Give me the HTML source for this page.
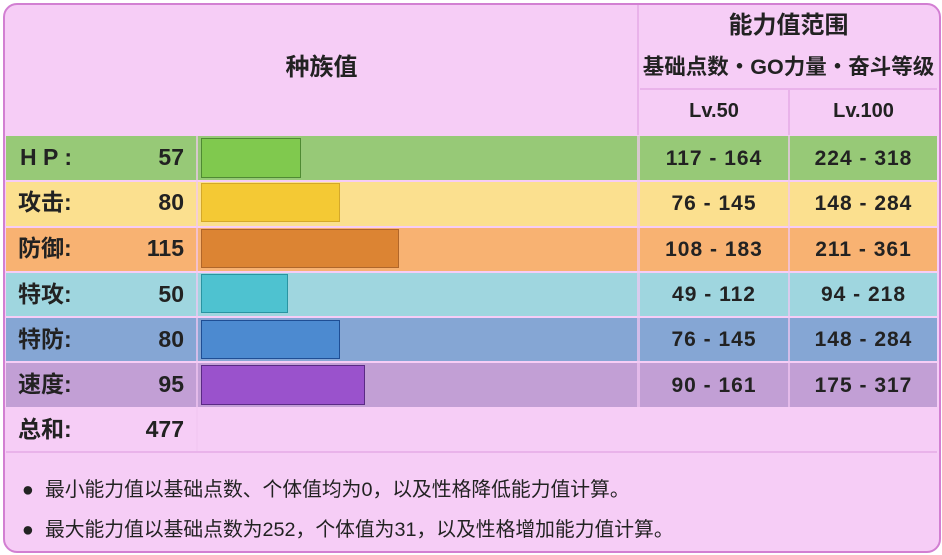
<!DOCTYPE html>
<html><head><meta charset="utf-8"><style>
body{margin:0;width:942px;height:555px;background:#fff;font-family:"Liberation Sans","Noto Sans CJK SC",sans-serif;color:#222;overflow:hidden}
.o{position:absolute;left:3px;top:3px;width:934px;height:546px;border:2px solid #d27fd2;border-radius:14px;background:#f6cdf6}
.a{position:absolute;box-sizing:border-box}
.t{position:absolute;font-weight:bold;font-size:23px;line-height:1}
.r{font-size:21px;letter-spacing:1px}
.c{text-align:center}
.n{position:absolute;font-size:19.8px;left:22px}
</style></head><body>
<div class="o"></div>
<div class="a" style="left:637px;top:5px;width:2px;height:130px;background:#e9b3ea"></div>
<div class="a" style="left:640px;top:88px;width:297px;height:2px;background:#e9b3ea"></div>
<div class="a" style="left:788px;top:90px;width:2px;height:45px;background:#e9b3ea"></div>
<div class="t c" style="left:6px;top:56px;width:631px;font-size:24px">种族值</div>
<div class="t c" style="left:640px;top:14px;width:297px;font-size:24px">能力值范围</div>
<div class="t c" style="left:638px;top:57px;width:301px;font-size:21.5px;white-space:nowrap">基础点数・GO力量・奋斗等级</div>
<div class="t c" style="left:640px;top:101px;width:148px;font-size:20px">Lv.50</div>
<div class="t c" style="left:790px;top:101px;width:147px;font-size:20px">Lv.100</div>

<div class="a" style="left:6px;top:136px;width:931px;height:44px;background:#97c977"></div>
<div class="a" style="left:6px;top:182px;width:931px;height:44px;background:#fbe08f"></div>
<div class="a" style="left:6px;top:228px;width:931px;height:43px;background:#f8b272"></div>
<div class="a" style="left:6px;top:273px;width:931px;height:43px;background:#9fd6df"></div>
<div class="a" style="left:6px;top:318px;width:931px;height:43px;background:#85a6d4"></div>
<div class="a" style="left:6px;top:363px;width:931px;height:44px;background:#c29fd5"></div>
<div class="a" style="left:196px;top:136px;width:2px;height:315px;background:#f2c8f2;opacity:.7"></div>
<div class="a" style="left:637px;top:136px;width:3px;height:271px;background:#f2c8f2;opacity:.7"></div>
<div class="a" style="left:788px;top:136px;width:2px;height:271px;background:#f2c8f2;opacity:.7"></div>
<div class="a" style="left:6px;top:451px;width:931px;height:2px;background:#e9b3ea"></div>

<div class="a" style="left:201px;top:138px;width:100px;height:40px;background:#80c94e;border:1px solid #4f8a33"></div>
<div class="a" style="left:201px;top:183px;width:139px;height:39px;background:#f4c934;border:1px solid #d4a82a"></div>
<div class="a" style="left:201px;top:229px;width:198px;height:39px;background:#dc8433;border:1px solid #b0662a"></div>
<div class="a" style="left:201px;top:274px;width:87px;height:39px;background:#4ec2d0;border:1px solid #2a94a2"></div>
<div class="a" style="left:201px;top:320px;width:139px;height:39px;background:#4c8ad0;border:1px solid #1f4e94"></div>
<div class="a" style="left:201px;top:365px;width:164px;height:40px;background:#9a52cc;border:1px solid #5a2a84"></div>

<div class="t" style="left:20px;top:146px">H P :</div><div class="t" style="left:100px;top:146px;width:84px;text-align:right">57</div>
<div class="t" style="left:18px;top:191px">攻击:</div><div class="t" style="left:100px;top:191px;width:84px;text-align:right">80</div>
<div class="t" style="left:18px;top:237px">防御:</div><div class="t" style="left:100px;top:237px;width:84px;text-align:right">115</div>
<div class="t" style="left:18px;top:283px">特攻:</div><div class="t" style="left:100px;top:283px;width:84px;text-align:right">50</div>
<div class="t" style="left:18px;top:328px">特防:</div><div class="t" style="left:100px;top:328px;width:84px;text-align:right">80</div>
<div class="t" style="left:18px;top:373px">速度:</div><div class="t" style="left:100px;top:373px;width:84px;text-align:right">95</div>
<div class="t" style="left:18px;top:418px">总和:</div><div class="t" style="left:100px;top:418px;width:84px;text-align:right">477</div>

<div class="t c r" style="left:640px;top:148px;width:148px">117 - 164</div><div class="t c r" style="left:790px;top:148px;width:147px">224 - 318</div>
<div class="t c r" style="left:640px;top:193px;width:148px">76 - 145</div><div class="t c r" style="left:790px;top:193px;width:147px">148 - 284</div>
<div class="t c r" style="left:640px;top:239px;width:148px">108 - 183</div><div class="t c r" style="left:790px;top:239px;width:147px">211 - 361</div>
<div class="t c r" style="left:640px;top:284px;width:148px">49 - 112</div><div class="t c r" style="left:790px;top:284px;width:147px">94 - 218</div>
<div class="t c r" style="left:640px;top:329px;width:148px">76 - 145</div><div class="t c r" style="left:790px;top:329px;width:147px">148 - 284</div>
<div class="t c r" style="left:640px;top:375px;width:148px">90 - 161</div><div class="t c r" style="left:790px;top:375px;width:147px">175 - 317</div>

<div class="n" style="top:473px">●&nbsp; 最小能力值以基础点数、个体值均为0，以及性格降低能力值计算。</div>
<div class="n" style="top:513px">●&nbsp; 最大能力值以基础点数为252，个体值为31，以及性格增加能力值计算。</div>
</body></html>
